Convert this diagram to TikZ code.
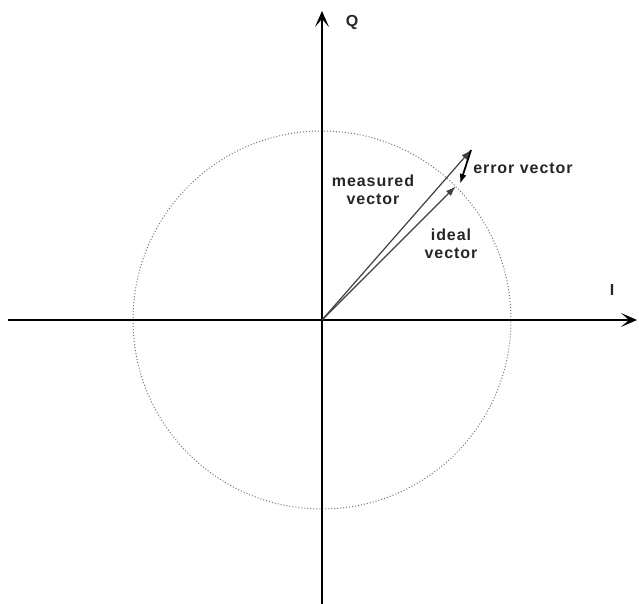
\documentclass[tikz,border=0pt]{standalone}
\usepackage{fontspec}
\setmainfont{Liberation Sans}
\newfontfamily\lblfont[LetterSpace=6]{Liberation Sans}
\usetikzlibrary{arrows.meta}

\begin{document}
\begin{tikzpicture}[x=0.5pt, y=0.5pt,
        axis/.style={-{Stealth[length=8pt, width=7pt, inset=4pt]}, line width=1pt},
        vec/.style={-{Latex[length=5pt, width=3.5pt]}, line width=0.6pt, draw=black!75},
        errvec/.style={-{Latex[length=5pt, width=3.5pt]}, line width=0.9pt, draw=black},
        lbl/.style={font=\fontsize{8}{9}\lblfont\bfseries, align=center, text=black!85},
      ]
        \useasboundingbox (-322,-284) rectangle (317,320);
        \coordinate (O) at (0,0);
        \coordinate (left) at (-314,0);
        \coordinate (right) at (315,0);
        \coordinate (bottom) at (0,-284);
        \coordinate (top) at (0,309);

        % unit circle
        \draw[densely dotted, black!55, line width=0.5pt] (O) circle (189);

        % axes
        \draw[axis] (left) -- (right);
        \draw[axis] (bottom) -- (top);
        \node[lbl] (q) at (30,298) {Q};
        \node[lbl] (i) at (290,30) {I};

        % vectors
        \coordinate (ideal) at (45:189);
        \coordinate (meas) at (149,170);
        \coordinate (errend) at (138,136);
        \draw[vec] (O) -- (ideal);
        \draw[vec] (O) -- (meas);
        \draw[errvec] (meas) -- (errend);

        \node[lbl] (measlbl) at (51,130) {measured\\vector};
        \node[lbl] (ideallbl) at (129,76) {ideal\\vector};
        \node[lbl] (errlbl) at (201,152) {error vector};
      \end{tikzpicture}
\end{document}
